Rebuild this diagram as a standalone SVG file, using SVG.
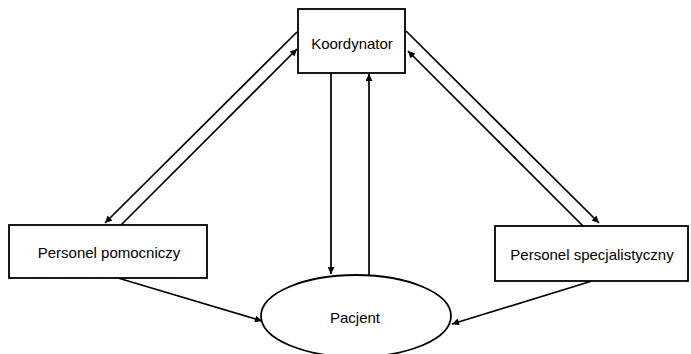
<svg xmlns="http://www.w3.org/2000/svg" width="691" height="354" viewBox="0 0 691 354">
<style>
.box{fill:#fff;stroke:#000;stroke-width:1.8}
.lbl{font-family:"Liberation Sans",Arial,sans-serif;font-size:15px;fill:#000;text-anchor:middle;dominant-baseline:central}
.ln{stroke:#000;stroke-width:1.7;fill:none;marker-end:url(#ah)}
</style>
<defs>
<marker id="ah" viewBox="0 0 10 10" refX="10" refY="5" markerWidth="10" markerHeight="7" markerUnits="userSpaceOnUse" orient="auto">
<path d="M0,0 L10,5 L0,10 z" fill="#000"/>
</marker>
</defs>
<rect width="691" height="354" fill="#fff"/>
<g id="connectors">
<line class="ln" x1="297" y1="32" x2="105" y2="223"/>
<line class="ln" x1="121" y1="225" x2="297" y2="49"/>
<line class="ln" x1="406" y1="31" x2="599" y2="223"/>
<line class="ln" x1="583" y1="226" x2="408" y2="51"/>
<line class="ln" x1="331" y1="73" x2="331" y2="274"/>
<line class="ln" x1="369" y1="275" x2="369" y2="74"/>
<line class="ln" x1="118" y1="278" x2="262" y2="321"/>
<line class="ln" x1="592" y1="281" x2="452" y2="324"/>
</g>
<g id="koordynator">
<rect class="box" x="298" y="9" width="107" height="64"/>
<text class="lbl" x="352" y="43">Koordynator</text>
</g>
<g id="personel-pomocniczy">
<rect class="box" x="9" y="225" width="198" height="53"/>
<text class="lbl" x="109" y="252">Personel pomocniczy</text>
</g>
<g id="personel-specjalistyczny">
<rect class="box" x="495" y="226" width="193" height="55"/>
<text class="lbl" x="592" y="254">Personel specjalistyczny</text>
</g>
<g id="pacjent">
<ellipse class="box" cx="356" cy="316" rx="95" ry="41"/>
<text class="lbl" x="355" y="317">Pacjent</text>
</g>
</svg>
